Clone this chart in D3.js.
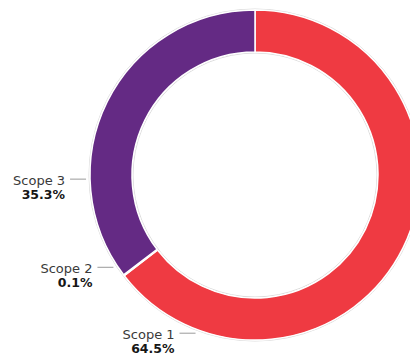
<!DOCTYPE html>
<html>
<head>
<meta charset="utf-8">
<script src="https://cdn.jsdelivr.net/npm/d3@7"></script>
<style>
  html, body { margin: 0; padding: 0; background: #fff; }
  svg { display: block; }
  .name { font-family: "DejaVu Sans", sans-serif; font-size: 13px; fill: #3a3a3a; }
  .pct { font-family: "DejaVu Sans", sans-serif; font-size: 12.5px; font-weight: bold; fill: #161616; }
</style>
</head>
<body>
<script>
// Emission shares by scope
const categories = ["Scope 1", "Scope 2", "Scope 3"];
const shares = [64.5, 0.1, 35.3];
const shareLabels = ["64.5%", "0.1%", "35.3%"];
const colors = ["#ef3a42", "#ef3a42", "#642a84"];

// Where each callout leaves the ring (degrees, clockwise from 12 o'clock)
const calloutAngles = [200.6, 236.9, 268.6];

const width = 410, height = 360;
const cx = 255, cy = 175;
const outerR = 165, innerR = 123;

const svg = d3.select("body").append("svg")
  .attr("width", width).attr("height", height);

const g = svg.append("g").attr("transform", `translate(${cx},${cy})`);

const pie = d3.pie().sort(null).value(d => d);
const arcs = pie(shares);
const arc = d3.arc().innerRadius(innerR).outerRadius(outerR);

// faint rim around the ring
g.append("circle").attr("r", outerR + 1).attr("fill", "none")
  .attr("stroke", "#dcdcdc").attr("stroke-width", 1);
g.append("circle").attr("r", innerR - 1).attr("fill", "none")
  .attr("stroke", "#dcdcdc").attr("stroke-width", 1);

g.selectAll("path.slice").data(arcs).enter().append("path")
  .attr("class", "slice")
  .attr("d", arc)
  .attr("fill", (d, i) => colors[i])
  .attr("stroke", "#fff")
  .attr("stroke-width", 1.5);

// callouts: short horizontal rule with name and share to its left
const lineLen = 16, anchorR = outerR + 4;
const callouts = g.selectAll("g.callout").data(categories).enter().append("g")
  .attr("class", "callout")
  .attr("transform", (d, i) => {
    const a = calloutAngles[i] * Math.PI / 180;
    return `translate(${anchorR * Math.sin(a)},${-anchorR * Math.cos(a)})`;
  });

callouts.append("line")
  .attr("x1", -lineLen).attr("x2", 0).attr("y1", 0).attr("y2", 0)
  .attr("stroke", "#9a9a9a").attr("stroke-width", 1);

callouts.append("text").attr("class", "name")
  .attr("x", -lineLen - 5).attr("y", 5.5)
  .attr("text-anchor", "end")
  .text(d => d);

callouts.append("text").attr("class", "pct")
  .attr("x", -lineLen - 5).attr("y", 19.5)
  .attr("text-anchor", "end")
  .text((d, i) => shareLabels[i]);
</script>
</body>
</html>
